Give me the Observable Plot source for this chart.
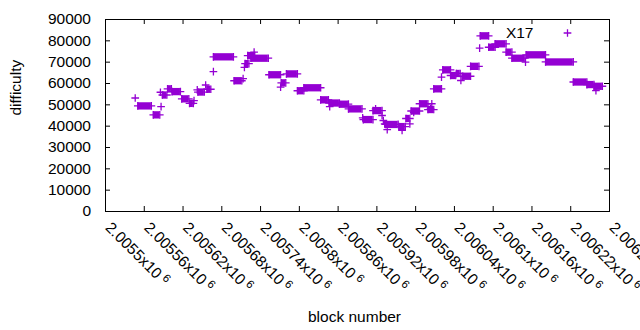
<!DOCTYPE html>
<html><head><meta charset="utf-8">
<script src="https://cdn.jsdelivr.net/npm/d3@7"></script>
<script src="https://cdn.jsdelivr.net/npm/@observablehq/plot@0.6"></script>
<style>body{margin:0;background:#fff} svg{display:block}</style>
</head><body><div id="chart"></div>
<script>
// runs of consecutive blocks sharing one difficulty
const runStart = [2005550,2005574,2005588,2005596,2005603,2005618,2005630,2005643,2005657,2005667,2005699,2005716,2005720,2005725,2005753,2005772,2005780,2005797,2005807,2005833,2005846,2005862,2005876,2005899,2005914,2005933,2005954,2005965,2005973,2005986,2005999,2006008,2006022,2006034,2006043,2006052,2006065,2006080,2006093,2006103,2006120,2006129,2006151,2006181,2006224,2006245,2006256];
const runEnd   = [2005571,2005584,2005595,2005602,2005616,2005629,2005636,2005653,2005663,2005698,2005711,2005722,2005731,2005752,2005771,2005779,2005797,2005807,2005833,2005845,2005862,2005876,2005897,2005914,2005928,2005953,2005964,2005971,2005986,2005999,2006008,2006020,2006034,2006042,2006049,2006065,2006078,2006093,2006103,2006120,2006129,2006149,2006181,2006224,2006245,2006256,2006269];
const runDiff  = [49500,45300,54600,57500,56200,52800,50700,56000,57300,72500,61300,69300,73100,71850,64100,60300,64500,56600,58000,52350,50850,50300,48100,43100,47300,40800,39800,43600,47100,50500,47800,57500,66400,63750,64700,63400,68050,82350,77000,78600,74700,71850,73450,70100,60700,59500,58700];
// single blocks
const pointBlock = [2005546,2005585,2005586,2005637,2005642,2005655,2005667,2005713,2005715,2005730,2005771,2005847,2005898,2005918,2005928,2005930,2005932,2005936,2005959,2005971,2005977,2006003,2006005,2006020,2006050,2006079,2006150,2006259];
const pointDiff  = [53200,55900,49200,52000,57000,59300,65600,62300,67600,74700,58300,49200,43900,48100,45000,42650,41100,38400,38000,41100,46500,48100,50500,63000,61400,76550,70000,56700];

const xTicks = [2005500,2005560,2005620,2005680,2005740,2005800,2005860,2005920,2005980,2006040,2006100,2006160,2006220,2006280];
const xTickLabels = ["2.0055","2.00556","2.00562","2.00568","2.00574","2.0058","2.00586","2.00592","2.00598","2.00604","2.0061","2.00616","2.00622","2.00628"];
const yTicks = [0,10000,20000,30000,40000,50000,60000,70000,80000,90000];
const yTickLabels = ["0","10000","20000","30000","40000","50000","60000","70000","80000","90000"];
const seriesName = "X17";

const color = "#9400d3";
const runs = runStart.map((s, i) => ({start: s, end: runEnd[i], diff: runDiff[i]}));
const markers = runs.flatMap(r => [{block: r.start, diff: r.diff}, {block: r.end, diff: r.diff}])
  .concat(pointBlock.map((b, i) => ({block: b, diff: pointDiff[i]})));

const chart = Plot.plot({
  width: 640, height: 330,
  marginLeft: 105, marginRight: 31, marginTop: 19, marginBottom: 119,
  style: {fontFamily: "'Liberation Sans', Arial, sans-serif", fontSize: "15.5px", color: "#000", background: "#fff", overflow: "visible"},
  x: {domain: [2005500, 2006280], axis: null},
  y: {domain: [0, 90000], axis: null},
  marks: [
    Plot.ruleY(runs, {y: "diff", x1: "start", x2: "end", stroke: color, strokeWidth: 7.3}),
    Plot.dot(markers, {x: "block", y: "diff", symbol: "plus", r: 2.6, stroke: color, strokeWidth: 1.3}),
    Plot.frame({stroke: "#000"}),
    Plot.tickX(xTicks, {x: d => d, insetTop: 187, stroke: "#000"}),
    Plot.tickX(xTicks, {x: d => d, insetBottom: 187, stroke: "#000"}),
    Plot.tickY(yTicks, {y: d => d, insetRight: 499, stroke: "#000"}),
    Plot.tickY(yTicks, {y: d => d, insetLeft: 499, stroke: "#000"}),
    Plot.axisY({ticks: yTicks, tickSize: 0, tickPadding: 14.5, tickFormat: d => yTickLabels[yTicks.indexOf(d)], label: null}),
    Plot.text(xTicks, {x: d => d, frameAnchor: "bottom", text: (d, i) => xTickLabels[i] + "x10", rotate: 45, textAnchor: "start", lineAnchor: "bottom", dx: -1, dy: 17, fill: "#000"}),
    Plot.text(["block number"], {frameAnchor: "bottom", text: d => d, lineAnchor: "bottom", dx: -3, dy: 110, fill: "#000"}),
    Plot.text(["difficulty"], {frameAnchor: "left", text: d => d, rotate: -90, lineAnchor: "bottom", dx: -85, fill: "#000"}),
    Plot.text([seriesName], {frameAnchor: "top-right", text: d => d, textAnchor: "end", lineAnchor: "bottom", dx: -76, dy: 18.5, fill: "#000"}),
    Plot.dot([seriesName], {frameAnchor: "top-right", dx: -42, dy: 13.5, symbol: "plus", r: 2.6, stroke: color, strokeWidth: 1.3})
  ]
});

d3.select(chart).selectAll("text")
  .filter(function() { return /x10$/.test(this.textContent); })
  .append("tspan").attr("dx", 3.5).attr("dy", -5).attr("font-size", "11.5px").text("6");

document.getElementById("chart").appendChild(chart);
</script>
</body></html>
